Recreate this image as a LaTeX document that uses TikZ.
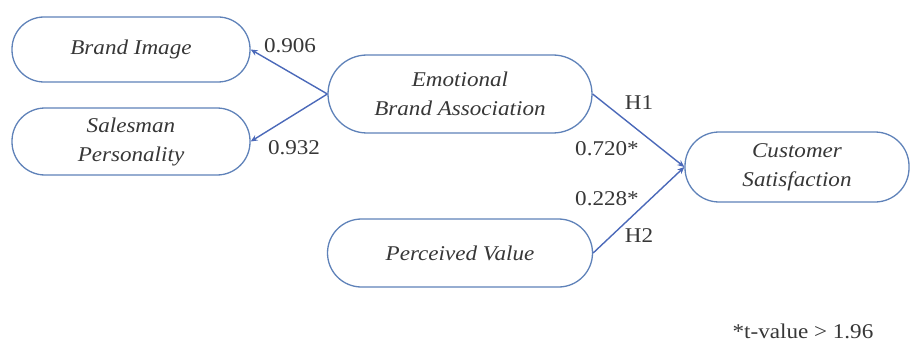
\documentclass[tikz,border=0pt]{standalone}
\usepackage{fontspec}
\setmainfont[FakeStretch=1.1]{Liberation Serif}
\usetikzlibrary{arrows.meta}
\definecolor{boxline}{RGB}{95,130,185}
\definecolor{arrowline}{RGB}{75,105,185}
\definecolor{txt}{RGB}{55,55,55}
\begin{document}
\begin{tikzpicture}[x=1pt,y=-1pt,
  latent/.style={draw=boxline, line width=1.3pt, rounded corners=#1, fill=white,
    font=\itshape\fontsize{21}{29}\selectfont, text=txt, align=center, inner sep=0pt},
  path/.style={draw=arrowline, line width=1.4pt, -{Stealth[length=7pt,width=6pt]}},
  lbl/.style={font=\fontsize{21}{23}\selectfont, text=txt, inner sep=0pt}]
\useasboundingbox (0,0) rectangle (912,342);
\node[latent=32pt, minimum width=238pt, minimum height=65pt] (bi) at (131,49.5) {Brand Image};
\node[latent=33pt, minimum width=238pt, minimum height=67pt] (sp) at (131,141.5) {Salesman\\Personality};
\node[latent=39pt, minimum width=264pt, minimum height=78pt] (eba) at (460,94) {Emotional\\Brand Association};
\node[latent=34pt, minimum width=224pt, minimum height=70pt] (cs) at (797,167) {Customer\\Satisfaction};
\node[latent=34pt, minimum width=265pt, minimum height=68pt] (pv) at (460,253) {Perceived Value};
\path[path] (eba.west) -- (bi.east);
\path[path] (eba.west) -- (sp.east);
\path[path] (eba.east) -- (cs.west);
\path[path] (pv.east) -- (cs.west);
\node[lbl] (l1) at (290,46) {0.906};
\node[lbl] (l2) at (294,148) {0.932};
\node[lbl] (h1) at (639,103) {H1};
\node[lbl] (l3) at (607,149) {0.720*};
\node[lbl] (l4) at (607,199) {0.228*};
\node[lbl] (h2) at (639,236) {H2};
\node[lbl] (note) at (803,331) {*t-value > 1.96};
\end{tikzpicture}
\end{document}
